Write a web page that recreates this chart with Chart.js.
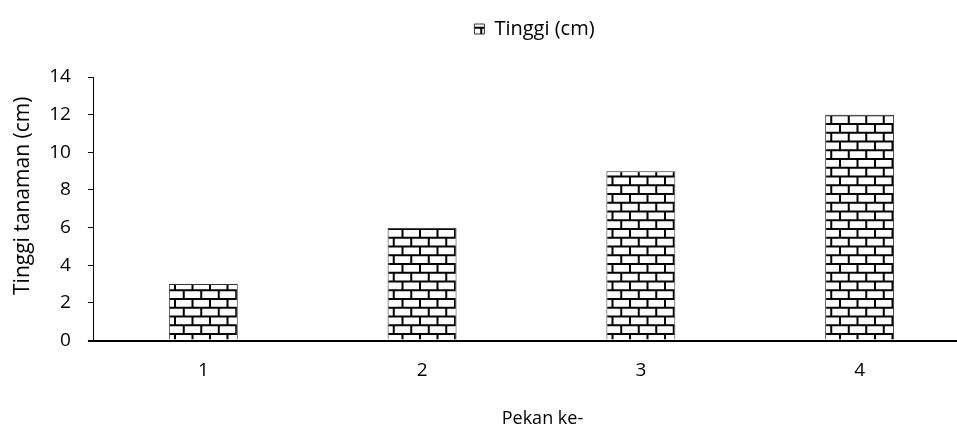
<!DOCTYPE html>
<html>
<head>
<meta charset="utf-8">
<script src="https://cdn.jsdelivr.net/npm/chart.js@4/dist/chart.umd.min.js"></script>
<style>
  html, body { margin: 0; padding: 0; background: #fff; overflow: hidden; }
  #wrap { width: 957px; height: 432px; overflow: hidden; position: relative; }
  #box { width: 969px; height: 432px; position: absolute; left: 0; top: 0; }
</style>
</head>
<body>
<div id="wrap"><div id="box"><canvas id="c"></canvas></div></div>
<script>
// ---- data ----
const categories = ['1', '2', '3', '4'];
const seriesName = 'Tinggi (cm)';
const heights = [3, 6, 9, 12];
const yMin = 0;
const yMax = 14;
const yStep = 2;
const xTitle = 'Pekan ke-';
const yTitle = 'Tinggi tanaman (cm)';

const FONT = "'Open Sans', 'Noto Sans', sans-serif";

// brick pattern
function brickPattern() {
  const s = 35;
  const p = document.createElement('canvas');
  p.width = s; p.height = s;
  const g = p.getContext('2d');
  g.fillStyle = '#fff';
  g.fillRect(0, 0, s, s);
  g.fillStyle = '#000';
  const rowH = s / 4, brickW = s / 2;
  for (let r = 0; r < 4; r++) {
    const y0 = r * rowH;
    g.fillRect(0, y0 - 1, s, 2);
    const off = (r % 2) ? brickW / 2 : 0;
    for (let x = off; x <= s; x += brickW) {
      g.fillRect(x - 1, y0, 2, rowH);
      if (x - 1 < 0) g.fillRect(x - 1 + s, y0, 2, rowH);
    }
  }
  g.fillRect(0, s - 1, s, 1);
  const ctx = document.createElement('canvas').getContext('2d');
  const pat = ctx.createPattern(p, 'repeat');
  if (pat.setTransform) pat.setTransform(new DOMMatrix([1, 0, 0, 1, 0, 19]));
  return pat;
}
const pattern = brickPattern();

const shiftPlugin = {
  id: 'shiftPlugin',
  beforeInit(chart) {
    const lg = chart.legend;
    const fit = lg.fit;
    lg.fit = function () { fit.call(this); this.height += 28; };
  },
  afterLayout(chart) {
    const lg = chart.legend;
    lg.left += 50; lg.right += 50;
    const wrap = (s, dx, dy) => {
      if (!s || s._shiftWrapped) return;
      const orig = s.drawTitle;
      s.drawTitle = function () {
        const c = this.ctx; c.save(); c.translate(dx, dy);
        orig.apply(this, arguments); c.restore();
      };
      s._shiftWrapped = true;
    };
    wrap(chart.scales.x, 11, 0);
    wrap(chart.scales.y, 4, -13);
  }
};

new Chart(document.getElementById('c'), {
  type: 'bar',
  data: {
    labels: categories,
    datasets: [{
      label: seriesName,
      data: heights,
      backgroundColor: pattern,
      borderColor: '#333',
      borderWidth: 1,
      barPercentage: 0.315,
      categoryPercentage: 1.0
    }]
  },
  options: {
    responsive: true,
    maintainAspectRatio: false,
    animation: false,
    devicePixelRatio: 1,
    layout: { padding: { top: 9, left: 0, right: 0, bottom: 2 } },
    plugins: {
      legend: {
        position: 'top',
        labels: {
          color: '#000',
          font: { family: FONT, size: 20 },
          boxWidth: 10, boxHeight: 10,
          padding: 10
        }
      },
      tooltip: { enabled: false }
    },
    scales: {
      x: {
        grid: { display: false },
        border: { display: true, color: '#000', width: 2 },
        ticks: { color: '#000', font: { family: FONT, size: 19 }, padding: 11 },
        title: {
          display: true, text: xTitle, color: '#000',
          font: { family: FONT, size: 18 },
          padding: { top: 15, bottom: 0 }
        }
      },
      y: {
        min: yMin, max: yMax,
        grid: {
          drawOnChartArea: false, drawTicks: true, tickLength: 6,
          color: '#000', lineWidth: (ctx) => ctx.tick && ctx.tick.value === 0 ? 2 : 1
        },
        border: { display: true, color: '#000', width: 1 },
        ticks: { stepSize: yStep, color: '#000', font: { family: FONT, size: 19 }, padding: 17 },
        title: {
          display: true, text: yTitle, color: '#000',
          font: { family: FONT, size: 21 },
          padding: { top: 6, bottom: 1 }
        }
      }
    }
  },
  plugins: [shiftPlugin]
});
</script>
</body>
</html>
